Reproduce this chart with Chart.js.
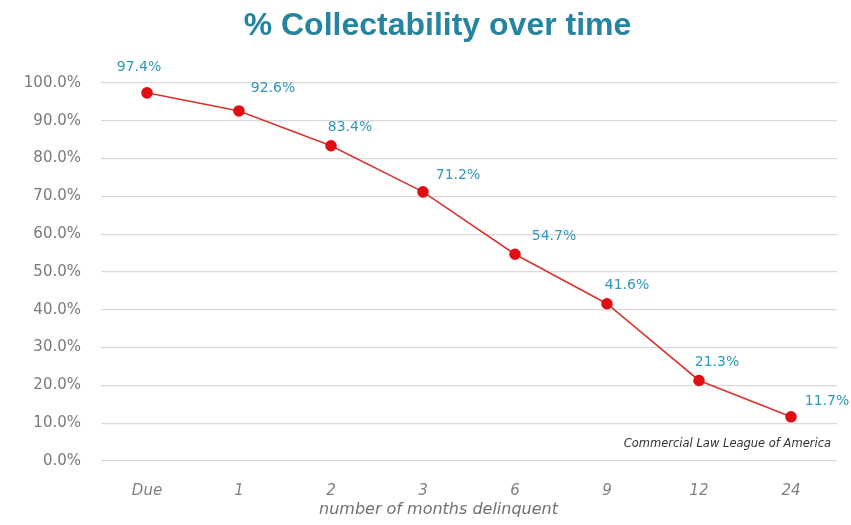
<!DOCTYPE html>
<html>
<head>
<meta charset="utf-8">
<script src="https://cdn.jsdelivr.net/npm/chart.js@4/dist/chart.umd.min.js"></script>
<style>
  html, body { margin: 0; padding: 0; background: #ffffff; }
  #wrap { width: 851px; height: 525px; }
</style>
</head>
<body>
<div id="wrap"><canvas id="chart"></canvas></div>
<script>
// Months since the invoice fell due
const months = ['Due', '1', '2', '3', '6', '9', '12', '24'];
// Share of the debt that is still collectable (%)
const collectable = [97.4, 92.6, 83.4, 71.2, 54.7, 41.6, 21.3, 11.7];
// Where each value label sits relative to its point (px)
const labelOffsetX = [-8, 34, 19, 35, 39, 20, 18, 36];
const labelOffsetY = [-25, -23, -18, -17, -18, -18, -18, -15];
const chartTitle = '% Collectability over time';
const axisTitle = 'number of months delinquent';
const sourceNote = 'Commercial Law League of America';

const annotations = {
  id: 'annotations',
  afterDatasetsDraw(chart) {
    const ctx = chart.ctx;
    const meta = chart.getDatasetMeta(0);
    ctx.save();
    ctx.textAlign = 'center';
    ctx.textBaseline = 'middle';
    // heading, set a little right of the canvas centre
    ctx.font = 'bold 32px "Liberation Sans"';
    ctx.fillStyle = '#25849f';
    ctx.fillText(chartTitle, chart.width / 2 + 12, 26);
    // value labels beside each point
    ctx.font = '14px "DejaVu Sans"';
    ctx.fillStyle = '#2f97b9';
    meta.data.forEach((pt, i) => {
      ctx.fillText(collectable[i].toFixed(1) + '%', pt.x + labelOffsetX[i], pt.y + labelOffsetY[i]);
    });
    // source credit inside the plot, bottom right
    const a = chart.chartArea;
    ctx.font = 'italic 11.5px "DejaVu Sans"';
    ctx.fillStyle = '#333333';
    ctx.textAlign = 'right';
    ctx.fillText(sourceNote, a.right - 6, chart.scales.y.getPixelForValue(4.5));
    // category axis title
    ctx.font = 'italic 16px "DejaVu Sans"';
    ctx.fillStyle = '#707070';
    ctx.textAlign = 'center';
    ctx.fillText(axisTitle, chart.width / 2 + 13, chart.height - 15);
    ctx.restore();
  }
};

new Chart(document.getElementById('chart'), {
  type: 'line',
  data: {
    labels: months,
    datasets: [{
      data: collectable,
      borderColor: '#d8352f',
      borderWidth: 1.6,
      backgroundColor: '#e00f14',
      pointBackgroundColor: '#e00f14',
      pointBorderColor: '#e00f14',
      pointRadius: 5,
      pointHoverRadius: 5,
      tension: 0,
      clip: false
    }]
  },
  options: {
    responsive: true,
    maintainAspectRatio: false,
    animation: false,
    layout: { padding: { left: 10, right: 14, top: 83, bottom: 12 } },
    plugins: {
      legend: { display: false },
      tooltip: { enabled: false },
      title: { display: false }
    },
    scales: {
      x: {
        offset: true,
        grid: { display: false },
        border: { display: false },
        ticks: {
          color: '#808080',
          font: { family: '"DejaVu Sans"', size: 15, style: 'italic' },
          padding: 13
        }
      },
      y: {
        min: 0,
        max: 100,
        grid: { color: '#d9d9d9', lineWidth: 1.2, drawTicks: false },
        border: { display: false },
        afterFit(scale) { scale.width = 91; },
        ticks: {
          stepSize: 10,
          color: '#7a7a7a',
          font: { family: '"DejaVu Sans"', size: 15 },
          padding: 20,
          callback: v => v.toFixed(1) + '%'
        }
      }
    }
  },
  plugins: [annotations]
});
</script>
</body>
</html>
